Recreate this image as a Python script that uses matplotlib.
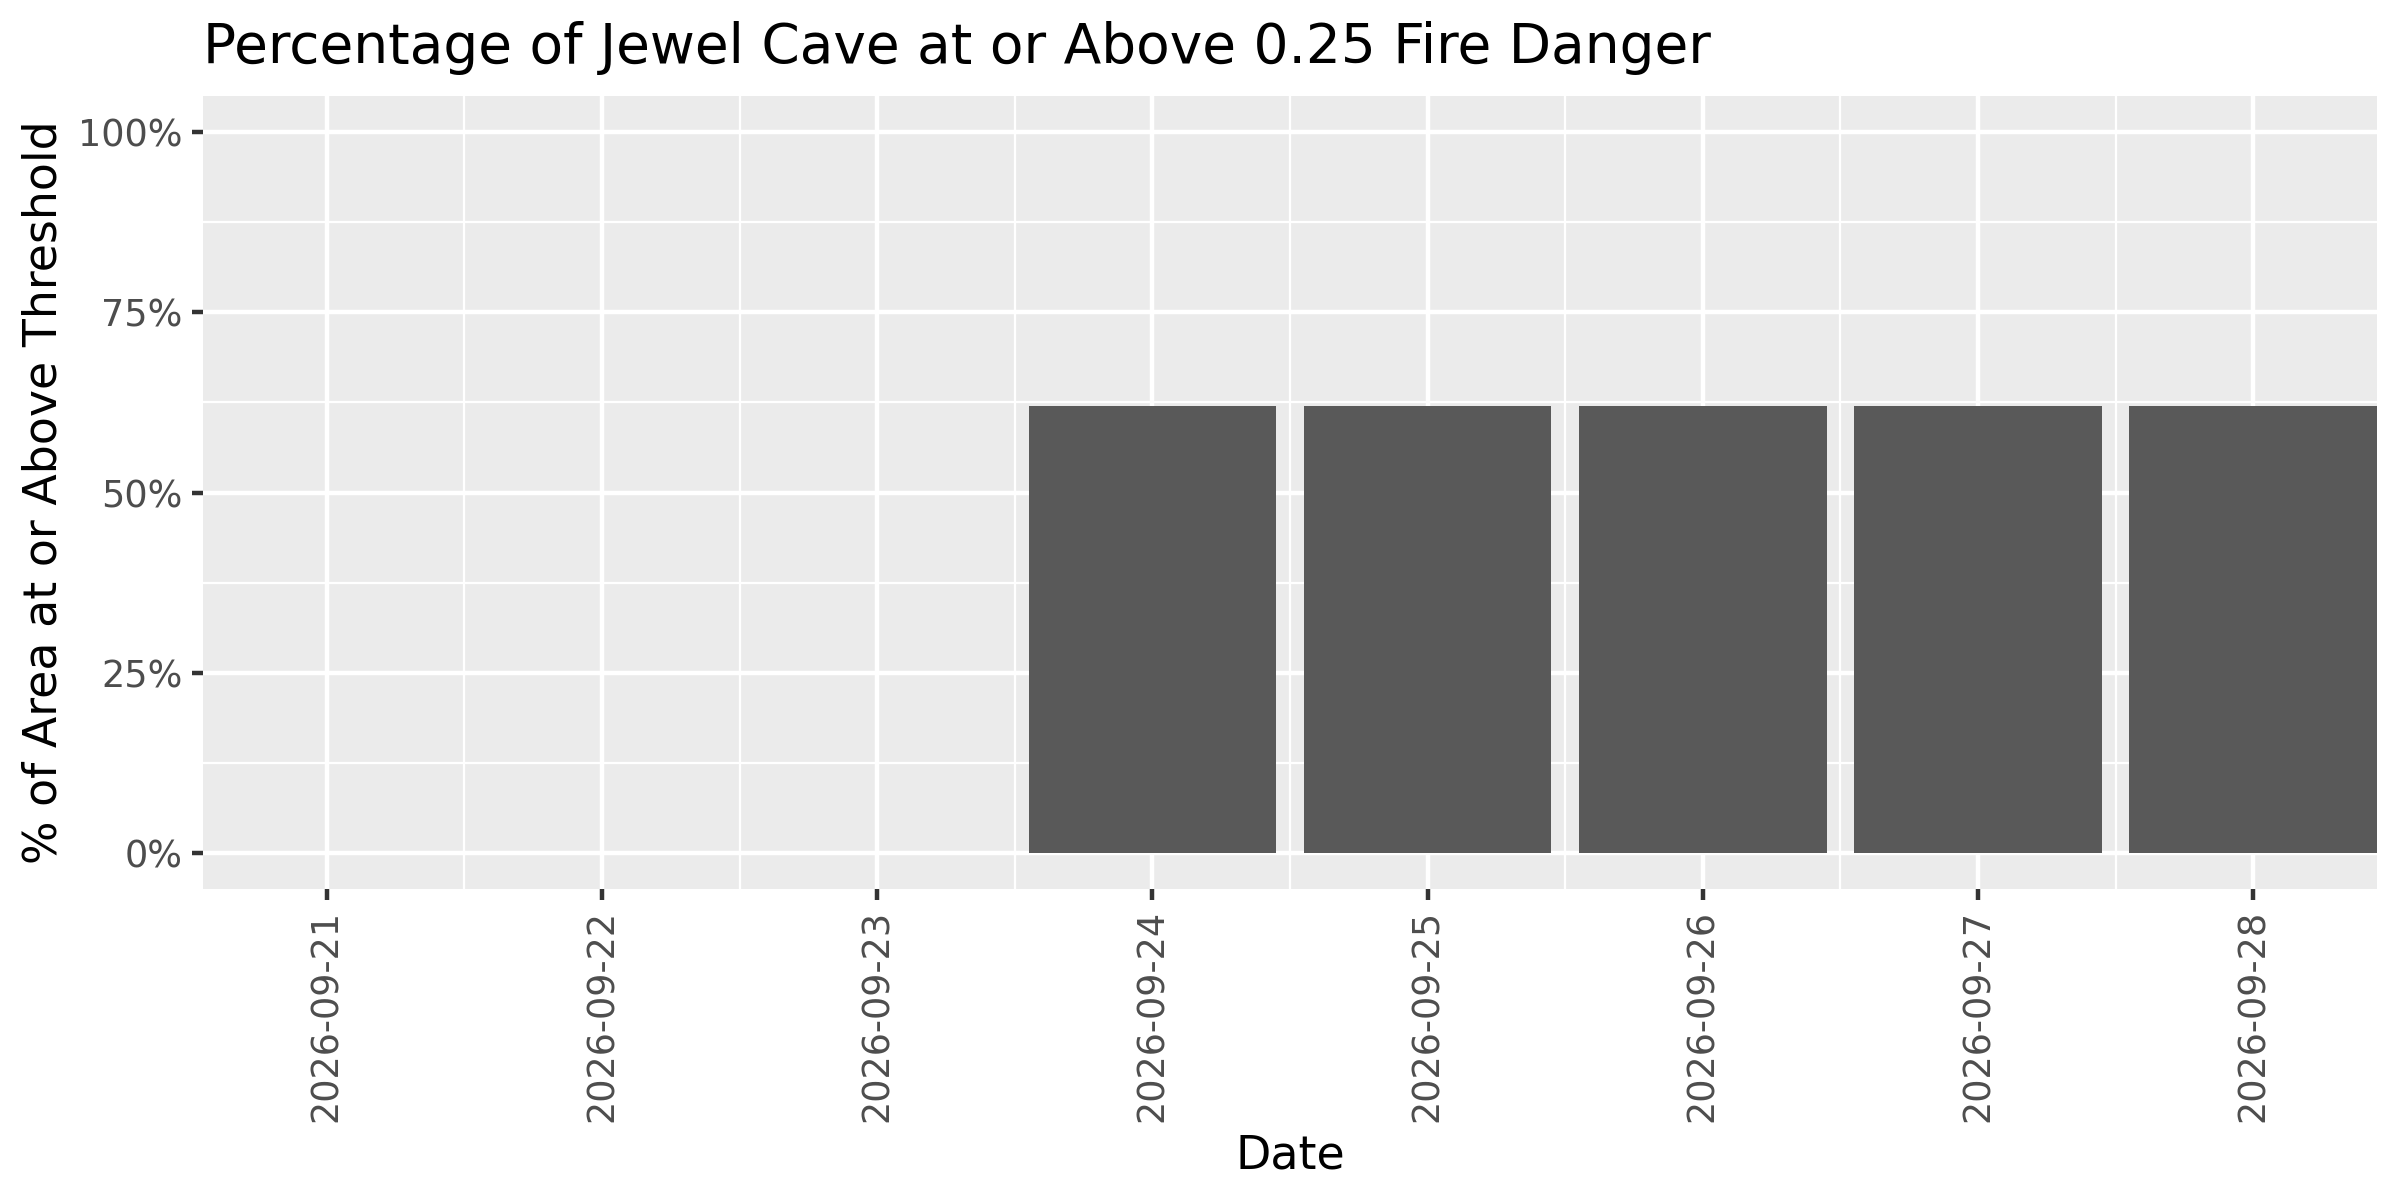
import matplotlib
matplotlib.use('Agg')
from matplotlib import pyplot as plt
from matplotlib.ticker import PercentFormatter, FixedLocator

dates = ['2026-09-21', '2026-09-22', '2026-09-23', '2026-09-24',
         '2026-09-25', '2026-09-26', '2026-09-27', '2026-09-28']
pct_above = [0, 0, 0, 62, 62, 62, 62, 62]
y_ticks = [0, 25, 50, 75, 100]
y_minor = [12.5, 37.5, 62.5, 87.5]

plt.rcParams['font.family'] = 'DejaVu Sans'


def MakePlot():
    fig = plt.figure(figsize=(8, 4), dpi=300)
    ax = fig.add_axes([203 / 2400, 1 - 889 / 1200, 2174 / 2400, 793 / 1200])
    ax.set_facecolor('#EBEBEB')
    ax.bar(dates, pct_above, width=0.9, color='#595959', linewidth=0, zorder=3)
    ax.set_xlim(-0.45, len(dates) - 0.55)
    ax.set_ylim(-5, 105)

    ax.yaxis.set_major_locator(FixedLocator(y_ticks))
    ax.yaxis.set_minor_locator(FixedLocator(y_minor))
    ax.xaxis.set_minor_locator(FixedLocator([i + 0.5 for i in range(-1, len(dates))]))
    ax.yaxis.set_major_formatter(PercentFormatter(decimals=0))

    ax.grid(which='major', color='white', linewidth=1.07, zorder=0)
    ax.grid(which='minor', color='white', linewidth=0.53, zorder=0)
    ax.set_axisbelow(True)
    for s in ax.spines.values():
        s.set_visible(False)
    ax.tick_params(which='major', length=2.75, width=1.07, color='#333333',
                   labelsize=8.8, labelcolor='#4D4D4D', pad=2.2)
    ax.tick_params(which='minor', length=0)
    ax.tick_params(axis='x', labelrotation=90)

    ax.set_xlabel('Date', fontsize=11, labelpad=2.75)
    ax.set_ylabel('% of Area at or Above Threshold', fontsize=11, labelpad=2.75)
    ax.set_title('Percentage of Jewel Cave at or Above 0.25 Fire Danger',
                 loc='left', fontsize=13.2, pad=8)
    fig.savefig('out.png', dpi=300)


if __name__ == '__main__':
    MakePlot()
